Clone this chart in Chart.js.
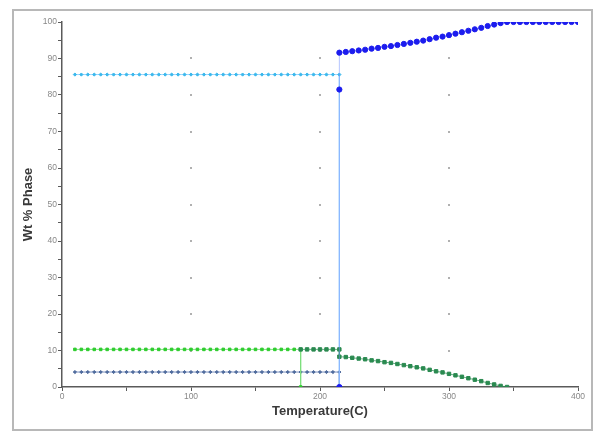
<!DOCTYPE html>
<html>
<head>
<meta charset="utf-8">
<script src="https://cdn.jsdelivr.net/npm/chart.js@4/dist/chart.umd.min.js"></script>
<style>
html, body { margin: 0; padding: 0; background: #fff; }
#frame { position: absolute; left: 12px; top: 9px; width: 577px; height: 418px; border: 2px solid #b8b8b8; }
#wrap { position: absolute; left: 0; top: 0; width: 593px; height: 432px; }
</style>
</head>
<body>
<div id="frame"></div>
<div id="wrap"><canvas id="myChart" width="593" height="432"></canvas></div>
<script>
// temperatures below the transition (C)
var tempLow = [10,15,20,25,30,35,40,45,50,55,60,65,70,75,80,85,90,95,100,105,110,115,120,125,130,135,140,145,150,155,160,165,170,175,180,185,190,195,200,205,210,215,215];

// light blue phase, drops to 0 at 215
var phaseA = [85.6,85.6,85.6,85.6,85.6,85.6,85.6,85.6,85.6,85.6,85.6,85.6,85.6,85.6,85.6,85.6,85.6,85.6,85.6,85.6,85.6,85.6,85.6,85.6,85.6,85.6,85.6,85.6,85.6,85.6,85.6,85.6,85.6,85.6,85.6,85.6,85.6,85.6,85.6,85.6,85.6,85.6,0];

// slate blue phase, drops to 0 at 215
var phaseB = [4.1,4.1,4.1,4.1,4.1,4.1,4.1,4.1,4.1,4.1,4.1,4.1,4.1,4.1,4.1,4.1,4.1,4.1,4.1,4.1,4.1,4.1,4.1,4.1,4.1,4.1,4.1,4.1,4.1,4.1,4.1,4.1,4.1,4.1,4.1,4.1,4.1,4.1,4.1,4.1,4.1,4.1,0];

// bright green phase, ends at 185
var tempGreen = [10,15,20,25,30,35,40,45,50,55,60,65,70,75,80,85,90,95,100,105,110,115,120,125,130,135,140,145,150,155,160,165,170,175,180,185,185];
var phaseC = [10.3,10.3,10.3,10.3,10.3,10.3,10.3,10.3,10.3,10.3,10.3,10.3,10.3,10.3,10.3,10.3,10.3,10.3,10.3,10.3,10.3,10.3,10.3,10.3,10.3,10.3,10.3,10.3,10.3,10.3,10.3,10.3,10.3,10.3,10.3,10.3,0];

// dark green phase, 185 -> 345
var tempDkGreen = [185,190,195,200,205,210,215,215,220,225,230,235,240,245,250,255,260,265,270,275,280,285,290,295,300,305,310,315,320,325,330,335,340,345];
var phaseD = [10.3,10.3,10.3,10.3,10.3,10.3,10.3,8.3,8.2,8.0,7.8,7.6,7.3,7.1,6.8,6.6,6.3,6.0,5.7,5.4,5.1,4.7,4.3,4.0,3.6,3.2,2.8,2.4,2.0,1.6,1.1,0.7,0.3,0];

// dark blue phase, 215 -> 400
var tempHigh = [215,215,215,220,225,230,235,240,245,250,255,260,265,270,275,280,285,290,295,300,305,310,315,320,325,330,335,340,345,350,355,360,365,370,375,380,385,390,395,400];
var phaseE = [0,81.5,91.6,91.8,92.0,92.2,92.4,92.7,92.9,93.2,93.4,93.7,94.0,94.3,94.6,94.9,95.3,95.7,96.0,96.4,96.8,97.2,97.6,98.0,98.4,98.9,99.3,99.7,100,100,100,100,100,100,100,100,100,100,100,100];

// dotted grid marks
var gridX = [100,200,300];
var gridY = [10,20,30,40,50,60,70,80,90];

function pts(xs, ys) {
    var out = [];
    for (var i = 0; i < xs.length; i++) {
        out.push({x: xs[i], y: ys[i]});
    }
    return out;
}

var gridDots = {
    id: 'gridDots',
    beforeDatasetsDraw: function(chart) {
        var c = chart.ctx;
        var sx = chart.scales.x, sy = chart.scales.y;
        c.save();
        c.fillStyle = '#b0b0b0';
        for (var i = 0; i < gridX.length; i++) {
            for (var j = 0; j < gridY.length; j++) {
                c.fillRect(Math.round(sx.getPixelForValue(gridX[i])) - 1, Math.round(sy.getPixelForValue(gridY[j])) - 1, 2, 2);
            }
        }
        c.restore();
    }
};

const ctx = document.getElementById('myChart').getContext('2d');
const config = {
    type: 'scatter',
    data: {
        datasets: [{
            data: pts(tempHigh, phaseE),
            showLine: true,
            borderColor: 'rgba(120,150,255,0.55)',
            borderWidth: 1,
            backgroundColor: '#1c1cee',
            pointBorderColor: '#1c1cee',
            pointStyle: 'circle',
            pointRadius: 2.6,
            order: 1
        }, {
            data: pts(tempDkGreen, phaseD),
            showLine: true,
            borderColor: 'rgba(40,140,80,0.7)',
            borderWidth: 1,
            backgroundColor: '#2a8a50',
            pointBorderColor: '#2a8a50',
            pointStyle: 'rect',
            pointRadius: 2.4,
            order: 2
        }, {
            data: pts(tempLow, phaseA),
            showLine: true,
            borderColor: '#9cd6ff',
            borderWidth: 1,
            backgroundColor: '#3ab8ec',
            pointBorderColor: '#3ab8ec',
            pointStyle: 'rectRot',
            pointRadius: 1.6,
            order: 3
        }, {
            data: pts(tempGreen, phaseC),
            showLine: true,
            borderColor: '#7ee07e',
            borderWidth: 1,
            backgroundColor: '#2ccc2c',
            pointBorderColor: '#2ccc2c',
            pointStyle: 'rect',
            pointRadius: 1.8,
            order: 4
        }, {
            data: pts(tempLow, phaseB),
            showLine: true,
            borderColor: '#7d93c0',
            borderWidth: 1,
            backgroundColor: '#4e6a9c',
            pointBorderColor: '#4e6a9c',
            pointStyle: 'rectRot',
            pointRadius: 1.6,
            order: 5
        }]
    },
    options: {
        responsive: false,
        animation: false,
        layout: { padding: { left: 17, right: 15, top: 22, bottom: 9 } },
        plugins: { legend: { display: false }, tooltip: { enabled: false } },
        scales: {
            x: {
                type: 'linear',
                min: 0, max: 400,
                afterFit: function(s) { s.height = 36; },
                border: { color: '#5a5a5a', width: 1.5 },
                grid: { drawOnChartArea: false, drawTicks: true, tickLength: 4, color: '#5a5a5a' },
                ticks: {
                    stepSize: 50, autoSkip: false, maxRotation: 0, padding: 1,
                    color: '#888', font: { family: 'Liberation Sans', size: 8.5 },
                    callback: function(v) { return v % 100 === 0 ? v : ''; }
                },
                title: {
                    display: true, text: 'Temperature(C)', color: '#3a3a3a',
                    font: { family: 'Liberation Sans', size: 13, weight: 'bold' }
                }
            },
            y: {
                min: 0, max: 100,
                afterFit: function(s) { s.width = 45; },
                border: { color: '#5a5a5a', width: 1.5 },
                grid: { drawOnChartArea: false, drawTicks: true, tickLength: 4, color: '#5a5a5a' },
                ticks: {
                    stepSize: 5, autoSkip: false, padding: 1,
                    color: '#888', font: { family: 'Liberation Sans', size: 8.5 },
                    callback: function(v) { return v % 10 === 0 ? v : ''; }
                },
                title: {
                    display: true, text: 'Wt % Phase', color: '#3a3a3a',
                    font: { family: 'Liberation Sans', size: 13, weight: 'bold' }
                }
            }
        }
    },
    plugins: [gridDots]
};
const myChart = new Chart(ctx, config);
</script>
</body>
</html>
